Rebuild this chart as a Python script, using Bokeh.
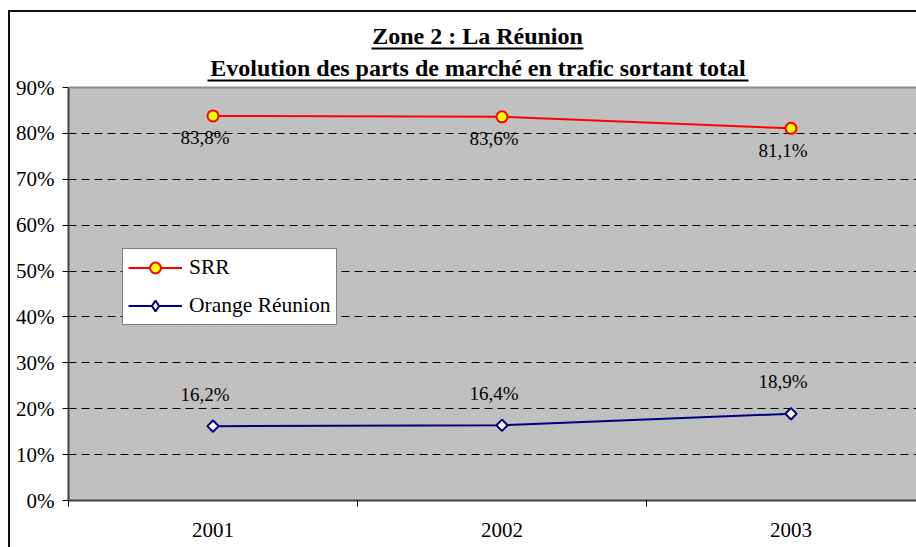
import numpy as np
from bokeh.plotting import figure
from bokeh.models import (Range1d, FixedTicker, LinearAxis, NumeralTickFormatter, Label,
                          BoxAnnotation, Legend, LegendItem, Grid, Span)
from bokeh.core.properties import value
from bokeh.embed import file_html
from bokeh.resources import INLINE

# ---------------- data ----------------
title_line1 = "Zone 2 : La Réunion"
title_line2 = "Evolution des parts de marché en trafic sortant total"
years = ["2001", "2002", "2003"]
series_names = ["SRR", "Orange Réunion"]
srr = [0.838, 0.836, 0.811]
orange = [0.162, 0.164, 0.189]
y_ticks = [0.0, 0.1, 0.2, 0.3, 0.4, 0.5, 0.6, 0.7, 0.8, 0.9]
y_max = 0.9


def fmt(v):
    return f"{v * 100:.1f}%".replace(".", ",")


x = list(range(len(years)))
srr_labels = [fmt(v) for v in srr]
orange_labels = [fmt(v) for v in orange]

# ---------------- layout ----------------
W, H = 916, 547
FL, FB = 68, 47
AREA_TOP = 87          # pixel row of the top of the grey plot area
frame_w = W - FL
frame_h = H - FB
cat_px = 289
px_per_unit = (frame_h - AREA_TOP) / y_max
FONT = "'Liberation Serif', 'Times New Roman', serif"

p = figure(width=W, height=H, output_backend="svg", toolbar_location=None,
           x_range=Range1d(-0.5, -0.5 + frame_w / cat_px),
           y_range=Range1d(0, y_max + AREA_TOP / px_per_unit),
           min_border_left=FL, min_border_right=0, min_border_top=0, min_border_bottom=FB,
           background_fill_color=None, border_fill_color=None, outline_line_color=None,
           x_axis_type=None, y_axis_type=None)
p.styles = {
    "background": "linear-gradient(#111,#111) 8px 10px / 100% 2px no-repeat, "
                  "linear-gradient(#111,#111) 8px 10px / 2px 100% no-repeat"
}

# grey plot area
p.add_layout(BoxAnnotation(bottom=0, top=y_max, fill_color="#C0C0C0", fill_alpha=1,
                           line_color=None, level="underlay"))

# axes
yaxis = LinearAxis(ticker=FixedTicker(ticks=y_ticks), formatter=NumeralTickFormatter(format="0%"),
                   bounds=(0, y_max))
yaxis.axis_line_color = "#404040"
yaxis.axis_line_width = 2
yaxis.major_tick_line_color = "black"
yaxis.major_tick_out = 6
yaxis.major_tick_in = 0
yaxis.minor_tick_line_color = None
yaxis.major_label_text_font = FONT
yaxis.major_label_text_font_size = "21px"
yaxis.major_label_text_color = "black"
yaxis.major_label_standoff = 8
p.add_layout(yaxis, "left")

xaxis = LinearAxis(ticker=FixedTicker(ticks=x, minor_ticks=[i - 0.5 for i in range(len(years) + 1)]),
                   major_label_overrides={i: yr for i, yr in enumerate(years)})
xaxis.axis_line_color = "#404040"
xaxis.axis_line_width = 2
xaxis.major_tick_line_color = None
xaxis.major_tick_out = 0
xaxis.major_tick_in = 0
xaxis.minor_tick_line_color = "black"
xaxis.minor_tick_out = 6
xaxis.minor_tick_in = 0
xaxis.major_label_text_font = FONT
xaxis.major_label_text_font_size = "21px"
xaxis.major_label_text_color = "black"
xaxis.major_label_standoff = 16
p.add_layout(xaxis, "below")

p.add_layout(Grid(dimension=1, ticker=yaxis.ticker, grid_line_color="black",
                  grid_line_dash="8 5", grid_line_width=1))
p.add_layout(Span(location=y_max, dimension="width", line_color="#8c8c8c", line_width=2))

# series
l1 = p.line(x, srr, line_color="#FF0000", line_width=2)
s1 = p.scatter(x, srr, marker="circle", size=11, fill_color="#FFFF00",
               line_color="#FF0000", line_width=2)
l2 = p.line(x, orange, line_color="#000080", line_width=2)
s2_leg = p.scatter(x, orange, marker="diamond", size=11, fill_color="white",
                   line_color="#000080", line_width=2)
s2 = p.scatter(x, orange, marker="square", angle=np.pi / 4, size=8, fill_color="white",
               line_color="#000080", line_width=2)

p.text(x, srr, text=srr_labels, text_font=value(FONT), text_font_size="19px",
       text_align="center", text_baseline="middle", y_offset=22, x_offset=-8, text_color="black")
p.text(x, orange, text=orange_labels, text_font=value(FONT), text_font_size="19px",
       text_align="center", text_baseline="middle", y_offset=-32, x_offset=-8, text_color="black")

legend = Legend(items=[LegendItem(label=series_names[0], renderers=[l1, s1]),
                       LegendItem(label=series_names[1], renderers=[l2, s2_leg])],
                location=(54, 175))
legend.border_line_color = "black"
legend.border_line_width = 1
legend.background_fill_color = "white"
legend.background_fill_alpha = 1
legend.label_text_font = FONT
legend.label_text_font_size = "21.5px"
legend.label_text_color = "black"
legend.glyph_width = 54
legend.glyph_height = 27
legend.label_height = 27
legend.label_standoff = 7
legend.spacing = 11
legend.padding = 5
legend.margin = 0
p.add_layout(legend)

# titles (bold, underlined)
p.add_layout(Label(x=409, y=465, x_units="screen", y_units="screen", text=title_line1,
                   text_font=FONT, text_font_style="bold", text_font_size="24px",
                   text_align="center", text_baseline="alphabetic", text_color="black"))
p.add_layout(Label(x=409.5, y=433, x_units="screen", y_units="screen", text=title_line2,
                   text_font=FONT, text_font_style="bold", text_font_size="24px",
                   text_align="center", text_baseline="alphabetic", text_color="black"))
p.add_layout(BoxAnnotation(left=303, right=515, top=453, bottom=451,
                           left_units="screen", right_units="screen",
                           top_units="screen", bottom_units="screen",
                           fill_color="black", fill_alpha=1, line_color=None))
p.add_layout(BoxAnnotation(left=139, right=680, top=421, bottom=419,
                           left_units="screen", right_units="screen",
                           top_units="screen", bottom_units="screen",
                           fill_color="black", fill_alpha=1, line_color=None))

open("out.html", "w").write(file_html(p, INLINE))
